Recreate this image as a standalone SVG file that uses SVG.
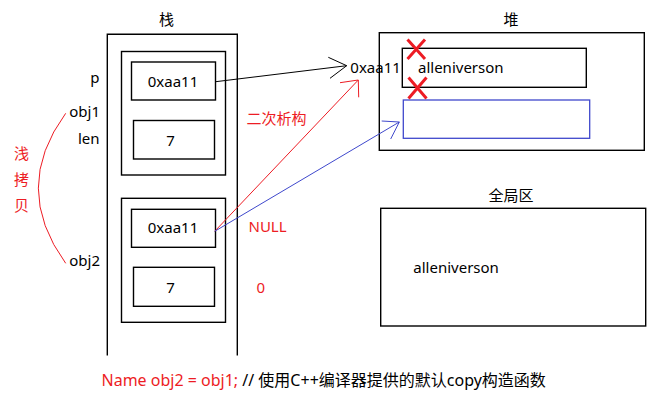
<svg xmlns="http://www.w3.org/2000/svg" width="662" height="409" viewBox="0 0 662 409">
<style>
text{font-family:"Noto Sans","Noto Sans CJK SC",sans-serif;font-size:15px;fill:#000}
.red{fill:#ed1c24}
.mid{text-anchor:middle}
.end{text-anchor:end}
.box{fill:none;stroke:#000;stroke-width:1.4}
.blue{fill:none;stroke:#3f48cc;stroke-width:1.3}
.x{stroke:#ed1c24;stroke-width:3;fill:none}
.ln{fill:none;stroke-width:1}
</style>
<rect width="662" height="409" fill="#fff"/>

<g id="stack">
  <text class="mid" x="166.5" y="25">栈</text>
  <polyline class="box" points="107.3,355.5 107.3,34.3 237.3,34.3 237.3,355.5"/>
</g>

<g id="obj1">
  <rect class="box" x="121.5" y="51.5" width="104" height="123.5"/>
  <text class="end" x="99.5" y="83">p</text>
  <text class="end" x="100" y="117">obj1</text>
  <text class="end" x="99.5" y="144">len</text>
  <g id="obj1-p">
    <rect class="box" x="131.5" y="62" width="84" height="38"/>
    <text class="mid" x="173" y="86.5">0xaa11</text>
  </g>
  <g id="obj1-len">
    <rect class="box" x="133.5" y="120.5" width="81" height="38.5"/>
    <text class="mid" x="170.5" y="145.7">7</text>
  </g>
</g>

<g id="obj2">
  <rect class="box" x="121.5" y="198.3" width="104" height="124"/>
  <text class="end" x="100" y="265.5">obj2</text>
  <g id="obj2-p">
    <rect class="box" x="131.5" y="209.3" width="84" height="38"/>
    <text class="mid" x="173" y="233.3">0xaa11</text>
  </g>
  <g id="obj2-len">
    <rect class="box" x="133.5" y="267.3" width="81" height="39"/>
    <text class="mid" x="170.5" y="293">7</text>
  </g>
</g>

<g id="shallow-copy">
  <text class="red mid" x="21.5" y="159">浅</text>
  <text class="red mid" x="21.5" y="185">拷</text>
  <text class="red mid" x="21.5" y="211">贝</text>
</g>

<g id="annotations">
  <text class="red" x="246.5" y="123.5">二次析构</text>
  <text class="red" x="248.5" y="232">NULL</text>
  <text class="red" x="256.5" y="292.7">0</text>
</g>

<g id="heap">
  <text class="mid" x="511" y="25">堆</text>
  <rect class="box" x="379.3" y="32.7" width="265" height="117.6"/>
  <text x="350.3" y="73.3">0xaa11</text>
  <g id="heap-string">
    <rect class="box" x="402.3" y="48.3" width="184" height="39"/>
    <text x="418" y="73.3">alleniverson</text>
  </g>
  <g id="heap-copy">
    <rect class="blue" x="403.3" y="100" width="186.4" height="38.3"/>
  </g>
  <g id="crosses">
    <path class="x" d="M407.5,39.5 L425,59 M425,39.5 L407.5,59"/>
    <path class="x" d="M408.5,77.5 L426.5,98.5 M426.5,77.5 L408.5,98.5"/>
  </g>
</g>

<g id="global">
  <text class="mid" x="511" y="201">全局区</text>
  <rect class="box" x="380.7" y="208.3" width="265" height="117.7"/>
  <text x="413.3" y="272.7">alleniverson</text>
</g>

<g id="connectors">
  <path class="ln" stroke="#000" d="M215.7,81.7 L346.7,65.7 M328.3,57.3 L346.7,65.7 L330,78.3"/>
  <path class="ln" stroke="#ed1c24" d="M214.7,231.3 L358.3,80 M340,82.7 L358.3,80 L358.7,97.3"/>
  <path class="ln" stroke="#3f48cc" d="M214.7,231.3 L399.3,122 M381.7,121 L399.3,122 L390.7,139"/>
  <path class="ln" stroke="#ed1c24" d="M65.7,113.3 Q11,188 65.7,263.3"/>
</g>

<g id="caption">
  <text x="101.5" y="386" style="font-size:16px"><tspan class="red">Name obj2 = obj1;</tspan> // 使用C++编译器提供的默认copy构造函数</text>
</g>
</svg>
